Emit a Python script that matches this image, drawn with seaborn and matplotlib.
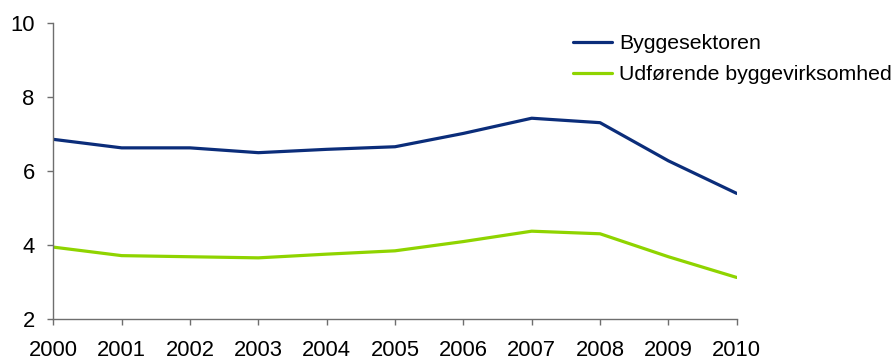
import matplotlib
matplotlib.use("Agg")
import matplotlib.pyplot as plt
import seaborn as sns
import pandas as pd
from matplotlib.lines import Line2D

years = [2000, 2001, 2002, 2003, 2004, 2005, 2006, 2007, 2008, 2009, 2010]
byggesektoren = [6.85, 6.62, 6.62, 6.49, 6.58, 6.65, 7.01, 7.42, 7.30, 6.27, 5.39]
udforende = [3.94, 3.71, 3.68, 3.65, 3.75, 3.84, 4.09, 4.37, 4.30, 3.68, 3.12]
series_names = ["Byggesektoren", "Udførende byggevirksomhed"]
colors = ["#0B2D7A", "#8FD400"]

df = pd.DataFrame({
    "År": years * 2,
    "Værdi": byggesektoren + udforende,
    "Serie": [series_names[0]] * len(years) + [series_names[1]] * len(years),
})

sns.set_theme(style="white")
plt.rcParams["font.family"] = ["Liberation Sans", "DejaVu Sans"]
plt.rcParams["text.color"] = "black"

fig = plt.figure(figsize=(8.93, 3.6), dpi=100)
ax = fig.add_axes([0.0597, 0.114, 0.7653, 0.823])

sns.lineplot(data=df, x="År", y="Værdi", hue="Serie", palette=colors,
             linewidth=2.3, ax=ax, legend=False)

ax.set_xlim(2000, 2010)
ax.set_ylim(2, 10)
ax.set_xticks(years)
ax.set_xticklabels([str(y) for y in years])
ax.set_yticks([2, 4, 6, 8, 10])
ax.set_xlabel("")
ax.set_ylabel("")

for side in ["top", "right"]:
    ax.spines[side].set_visible(False)
for side in ["left", "bottom"]:
    ax.spines[side].set_color("#6E6E6E")
    ax.spines[side].set_linewidth(1.0)

ax.tick_params(axis="x", bottom=True, direction="out", length=4.3, width=1,
               color="#6E6E6E", pad=10.5, labelsize=15.8, labelcolor="black")
ax.tick_params(axis="y", left=True, direction="out", length=4.3, width=1,
               color="#6E6E6E", pad=9, labelsize=15.8, labelcolor="black")
ax.grid(False)

handles = [Line2D([0], [0], color=c, linewidth=2.3) for c in colors]
fig.legend(handles, series_names, loc="upper left",
           bbox_to_anchor=(573 / 893, 1 - 34 / 360), frameon=False,
           fontsize=15.3, handlelength=1.84, handletextpad=0.33,
           labelspacing=0.57, borderpad=0, borderaxespad=0,
           labelcolor="black")

fig.savefig("out.png", dpi=100)
